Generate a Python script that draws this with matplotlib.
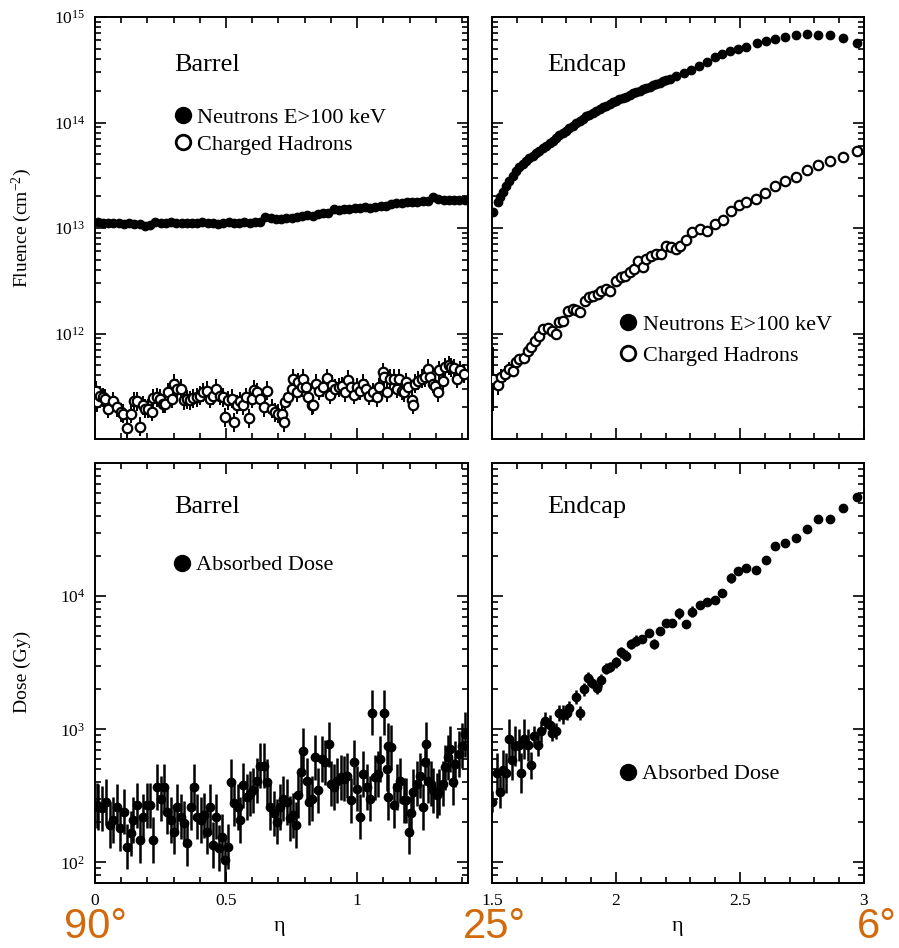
import numpy as np
import matplotlib
matplotlib.use("Agg")
import matplotlib.pyplot as plt
from matplotlib.ticker import (MultipleLocator, LogLocator, NullFormatter,
                               LogFormatterMathtext, FixedLocator, FuncFormatter)
from matplotlib.lines import Line2D

plt.rcParams['font.family'] = ['Liberation Serif', 'DejaVu Serif']
plt.rcParams['mathtext.fontset'] = 'custom'
plt.rcParams['mathtext.rm'] = 'Liberation Serif'
plt.rcParams['mathtext.it'] = 'Liberation Serif:italic'

# ---------------- data ----------------
# Barrel, neutron fluence (x 1e13 cm^-2)
eta_barrel_n = [0.01, 0.03, 0.05, 0.07, 0.09, 0.11, 0.13, 0.15, 0.17, 0.19,
                0.21, 0.23, 0.25, 0.27, 0.29, 0.31, 0.33, 0.35, 0.37, 0.39,
                0.41, 0.43, 0.45, 0.47, 0.49, 0.51, 0.53, 0.55, 0.57, 0.59,
                0.61, 0.63, 0.65, 0.67, 0.69, 0.71, 0.73, 0.75, 0.77, 0.79,
                0.81, 0.83, 0.85, 0.87, 0.89, 0.91, 0.93, 0.95, 0.97, 0.99,
                1.01, 1.03, 1.05, 1.07, 1.09, 1.11, 1.13, 1.15, 1.17, 1.19,
                1.21, 1.23, 1.25, 1.27, 1.29, 1.31, 1.33, 1.35, 1.37, 1.39,
                1.41]
neutron_barrel = [1.13, 1.12, 1.12, 1.11, 1.12, 1.10, 1.11, 1.09, 1.08, 1.05,
                  1.07, 1.15, 1.12, 1.11, 1.14, 1.12, 1.11, 1.12, 1.11, 1.12,
                  1.13, 1.11, 1.12, 1.10, 1.12, 1.13, 1.11, 1.12, 1.13, 1.12,
                  1.13, 1.15, 1.27, 1.24, 1.22, 1.23, 1.25, 1.24, 1.27, 1.30,
                  1.33, 1.31, 1.36, 1.38, 1.40, 1.52, 1.48, 1.50, 1.53, 1.55,
                  1.54, 1.57, 1.55, 1.58, 1.60, 1.63, 1.68, 1.72, 1.73, 1.75,
                  1.76, 1.78, 1.80, 1.82, 1.95, 1.88, 1.84, 1.86, 1.83, 1.84,
                  1.86]

# Barrel, charged hadron fluence (x 1e11 cm^-2)
eta_barrel_h = [0.003, 0.006, 0.019, 0.032, 0.038, 0.051, 0.068, 0.083, 0.098, 0.108,
                0.121, 0.136, 0.149, 0.159, 0.172, 0.182, 0.191, 0.204, 0.216, 0.223,
                0.235, 0.248, 0.258, 0.267, 0.280, 0.293, 0.302, 0.314, 0.327, 0.340,
                0.350, 0.363, 0.375, 0.388, 0.401, 0.413, 0.426, 0.439, 0.452, 0.462,
                0.477, 0.487, 0.496, 0.509, 0.522, 0.531, 0.541, 0.553, 0.566, 0.576,
                0.589, 0.598, 0.607, 0.617, 0.630, 0.643, 0.658, 0.674, 0.687, 0.700,
                0.712, 0.721, 0.725, 0.738, 0.751, 0.755, 0.770, 0.776, 0.789, 0.795,
                0.805, 0.814, 0.827, 0.833, 0.844, 0.856, 0.869, 0.884, 0.895, 0.903,
                0.916, 0.929, 0.941, 0.954, 0.967, 0.976, 0.989, 0.999, 1.011, 1.024,
                1.034, 1.047, 1.060, 1.075, 1.085, 1.098, 1.103, 1.113, 1.126, 1.139,
                1.151, 1.161, 1.170, 1.179, 1.187, 1.196, 1.209, 1.212, 1.221, 1.234,
                1.247, 1.260, 1.269, 1.279, 1.289, 1.298, 1.307, 1.314, 1.327, 1.336,
                1.349, 1.358, 1.368, 1.381, 1.393, 1.406]
hadron_barrel = [2.88, 2.23, 2.58, 2.49, 2.40, 1.93, 2.27, 2.00, 1.80, 1.73,
                 1.27, 1.73, 2.27, 2.27, 1.31, 2.08, 1.93, 1.93, 1.82, 2.43,
                 2.49, 2.40, 2.16, 2.16, 2.78, 2.40, 3.33, 2.99, 2.99, 2.32,
                 2.37, 2.32, 2.43, 2.49, 2.58, 2.78, 2.88, 2.40, 2.58, 2.99,
                 2.58, 2.49, 1.61, 2.32, 2.40, 1.44, 2.11, 2.27, 2.08, 2.49,
                 1.57, 2.40, 2.92, 2.78, 2.40, 2.00, 2.88, 1.93, 1.80, 1.73,
                 1.73, 1.44, 2.23, 2.49, 2.99, 3.71, 2.78, 3.46, 3.10, 3.71,
                 3.10, 2.49, 2.08, 2.11, 3.33, 2.88, 3.10, 3.77, 2.62, 3.26,
                 2.99, 3.10, 3.17, 2.78, 3.64, 3.10, 2.62, 3.10, 2.88, 3.33,
                 2.99, 2.58, 2.78, 2.49, 3.10, 4.30, 3.86, 2.78, 3.71, 3.71,
                 2.99, 3.71, 2.88, 2.78, 3.46, 3.10, 2.32, 2.11, 3.33, 3.58,
                 3.71, 3.86, 4.63, 3.86, 3.33, 3.21, 2.78, 4.46, 3.58, 4.80,
                 4.98, 4.80, 4.70, 3.71, 4.46, 4.15]
hadron_barrel_err_dex = 0.09

# Endcap, neutron fluence (x 1e13 cm^-2)
eta_endcap_n = [1.505, 1.523, 1.532, 1.543, 1.557, 1.570, 1.584, 1.597, 1.610, 1.624,
                1.637, 1.651, 1.664, 1.678, 1.691, 1.705, 1.718, 1.732, 1.745, 1.759,
                1.772, 1.786, 1.799, 1.812, 1.826, 1.839, 1.853, 1.866, 1.880, 1.893,
                1.907, 1.920, 1.934, 1.947, 1.961, 1.974, 1.988, 2.001, 2.014, 2.028,
                2.041, 2.055, 2.068, 2.082, 2.095, 2.109, 2.122, 2.136, 2.149, 2.163,
                2.176, 2.190, 2.203, 2.217, 2.243, 2.274, 2.304, 2.335, 2.365, 2.398,
                2.429, 2.459, 2.493, 2.526, 2.567, 2.604, 2.641, 2.681, 2.726, 2.769,
                2.816, 2.863, 2.917, 2.971]
neutron_endcap = [1.41, 1.75, 1.95, 2.18, 2.52, 2.81, 3.13, 3.50, 3.76, 4.04,
                  4.29, 4.58, 4.85, 5.10, 5.41, 5.73, 6.03, 6.39, 6.73, 7.13,
                  7.56, 7.95, 8.37, 8.81, 9.33, 9.82, 10.26, 10.8, 11.4, 11.9,
                  12.4, 12.9, 13.4, 13.9, 14.4, 15.0, 15.5, 16.1, 16.6, 17.1,
                  17.6, 18.2, 18.9, 19.5, 20.0, 20.6, 21.2, 21.9, 22.5, 23.2,
                  23.9, 24.6, 25.3, 26.0, 27.6, 29.4, 31.5, 34.3, 37.7, 41.5,
                  44.6, 47.3, 49.8, 52.4, 56.3, 58.8, 61.9, 65.1, 67.5, 69.0,
                  67.5, 67.5, 63.2, 56.3]

# Endcap, charged hadron fluence (x 1e12 cm^-2)
eta_endcap_h = [1.505, 1.523, 1.536, 1.554, 1.567, 1.584, 1.597, 1.610, 1.631, 1.644,
                1.658, 1.675, 1.691, 1.707, 1.725, 1.742, 1.759, 1.772, 1.788, 1.806,
                1.826, 1.839, 1.856, 1.873, 1.891, 1.907, 1.927, 1.940, 1.958, 1.974,
                2.001, 2.021, 2.035, 2.055, 2.071, 2.089, 2.109, 2.122, 2.142, 2.163,
                2.183, 2.203, 2.223, 2.243, 2.260, 2.284, 2.308, 2.338, 2.367, 2.398,
                2.432, 2.462, 2.497, 2.526, 2.564, 2.600, 2.641, 2.681, 2.726, 2.769,
                2.816, 2.863, 2.917, 2.971]
hadron_endcap = [0.371, 0.327, 0.385, 0.413, 0.461, 0.445, 0.533, 0.573, 0.586, 0.688,
                 0.739, 0.843, 0.954, 1.10, 1.13, 1.06, 0.989, 1.28, 1.32, 1.65,
                 1.71, 1.67, 1.59, 2.05, 2.23, 2.28, 2.37, 2.55, 2.64, 2.55,
                 3.12, 3.46, 3.53, 3.80, 4.09, 4.90, 4.24, 5.08, 5.47, 5.67,
                 5.67, 6.81, 6.66, 6.32, 6.81, 7.69, 9.10, 9.79, 9.44, 10.9,
                 12.0, 14.6, 16.6, 17.5, 18.8, 21.3, 25.2, 28.1, 30.7, 35.8,
                 39.8, 43.5, 46.8, 53.3]
hadron_endcap_err_dex = [0.30, 0.10, 0.08, 0.08, 0.07, 0.06, 0.05, 0.05, 0.05, 0.04,
                         0.04, 0.04, 0.04, 0.04, 0.04, 0.04, 0.03, 0.03, 0.03, 0.03,
                         0.03, 0.03, 0.03, 0.03, 0.03, 0.03, 0.03, 0.03, 0.03, 0.03,
                         0.03, 0.03, 0.03, 0.03, 0.03, 0.03, 0.03, 0.03, 0.03, 0.03,
                         0.03, 0.03, 0.03, 0.03, 0.03, 0.03, 0.03, 0.03, 0.03, 0.03,
                         0.02, 0.02, 0.02, 0.02, 0.02, 0.02, 0.02, 0.02, 0.02, 0.02,
                         0.02, 0.02, 0.02, 0.02]

# Barrel, absorbed dose (Gy)
eta_barrel_d = [0.006, 0.013, 0.025, 0.042, 0.057, 0.070, 0.085, 0.095, 0.111, 0.121,
                0.136, 0.146, 0.159, 0.172, 0.184, 0.197, 0.210, 0.223, 0.235, 0.251,
                0.263, 0.276, 0.289, 0.302, 0.314, 0.327, 0.340, 0.352, 0.365, 0.378,
                0.391, 0.403, 0.416, 0.426, 0.439, 0.452, 0.462, 0.472, 0.483, 0.496,
                0.509, 0.519, 0.532, 0.545, 0.553, 0.566, 0.579, 0.592, 0.604, 0.617,
                0.630, 0.643, 0.655, 0.668, 0.681, 0.693, 0.706, 0.719, 0.732, 0.744,
                0.757, 0.767, 0.776, 0.785, 0.795, 0.808, 0.818, 0.827, 0.840, 0.852,
                0.865, 0.878, 0.891, 0.900, 0.912, 0.925, 0.938, 0.950, 0.963, 0.976,
                0.989, 0.999, 1.011, 1.024, 1.037, 1.050, 1.055, 1.069, 1.081, 1.088,
                1.103, 1.113, 1.118, 1.128, 1.116, 1.139, 1.151, 1.164, 1.177, 1.187,
                1.197, 1.205, 1.215, 1.228, 1.238, 1.251, 1.260, 1.263, 1.272, 1.281,
                1.291, 1.304, 1.314, 1.327, 1.336, 1.345, 1.355, 1.365, 1.374, 1.387,
                1.399, 1.412]
dose_barrel = [269, 261, 254, 284, 191, 208, 261, 180, 240, 131,
               165, 208, 269, 147, 220, 269, 269, 147, 368, 301,
               368, 240, 208, 170, 261, 220, 196, 139, 261, 368,
               220, 208, 226, 170, 261, 135, 220, 128, 156, 105,
               131, 401, 277, 261, 208, 379, 310, 328, 347, 412,
               533, 533, 401, 261, 233, 202, 261, 301, 284, 214,
               226, 191, 319, 476, 690, 412, 284, 301, 615, 347,
               598, 565, 773, 390, 368, 412, 436, 424, 449, 293,
               565, 357, 220, 462, 368, 301, 1330, 436, 462, 598,
               1330, 504, 751, 731, 310, 269, 368, 412, 293, 293,
               170, 233, 338, 390, 449, 261, 565, 773, 412, 390,
               347, 319, 338, 390, 519, 615, 710, 401, 549, 652,
               751, 918]
dose_barrel_err_dex = 0.17

# Endcap, absorbed dose (Gy)
eta_endcap_d = [1.502, 1.519, 1.532, 1.543, 1.557, 1.567, 1.581, 1.594, 1.617, 1.610,
                1.631, 1.644, 1.658, 1.671, 1.685, 1.698, 1.715, 1.732, 1.742, 1.759,
                1.769, 1.786, 1.802, 1.812, 1.837, 1.853, 1.869, 1.887, 1.904, 1.923,
                1.940, 1.958, 1.974, 1.998, 2.021, 2.041, 2.062, 2.082, 2.106, 2.133,
                2.152, 2.179, 2.203, 2.227, 2.254, 2.281, 2.308, 2.338, 2.367, 2.398,
                2.429, 2.462, 2.493, 2.526, 2.564, 2.604, 2.641, 2.681, 2.726, 2.771,
                2.816, 2.863, 2.917, 2.971]
dose_endcap = [286, 468, 340, 496, 468, 845, 590, 745, 468, 766,
               845, 766, 535, 885, 757, 966, 1148, 1084, 938, 966,
               1327, 1290, 1327, 1449, 1745, 1327, 1994, 2415, 2240, 2029,
               2332, 2858, 2941, 3173, 3775, 3563, 4365, 4627, 4763, 5253,
               4365, 5445, 6254, 6254, 7444, 6181, 7663, 8603, 9016, 9383,
               10530, 13690, 15450, 16380, 15630, 18820, 23730, 25160, 27430, 31900,
               37760, 37760, 45710, 55360]
dose_endcap_err_dex = [0.08, 0.15, 0.12, 0.15, 0.15, 0.15, 0.15, 0.15, 0.15, 0.12,
                       0.15, 0.12, 0.10, 0.08, 0.08, 0.08, 0.07, 0.07, 0.06, 0.06,
                       0.06, 0.07, 0.05, 0.05, 0.05, 0.05, 0.05, 0.05, 0.04, 0.04,
                       0.05, 0.04, 0.04, 0.04, 0.04, 0.04, 0.04, 0.04, 0.03, 0.03,
                       0.04, 0.03, 0.03, 0.03, 0.04, 0.03, 0.04, 0.03, 0.03, 0.03,
                       0.03, 0.04, 0.03, 0.03, 0.03, 0.03, 0.03, 0.03, 0.02, 0.02,
                       0.02, 0.02, 0.02, 0.03]

barrel_xticks = [0, 0.5, 1]
endcap_xticks = [1.5, 2, 2.5, 3]
fluence_yticks = [1e12, 1e13, 1e14, 1e15]
dose_yticks = [1e2, 1e3, 1e4]


def dex_err(vals, dex):
    v = np.asarray(vals, dtype=float)
    d = np.asarray(dex, dtype=float)
    return [v - v / 10 ** d, v * 10 ** d - v]


# ---------------- layout ----------------
W, H = 899, 948
fig = plt.figure(figsize=(W / 100, H / 100), dpi=100)


def ax_at(x0, y0, x1, y1):
    return fig.add_axes([x0 / W, 1 - y1 / H, (x1 - x0) / W, (y1 - y0) / H])


ax_tl = ax_at(95, 17, 468, 439)
ax_tr = ax_at(492, 17, 864, 439)
ax_bl = ax_at(95, 463, 468, 883)
ax_br = ax_at(492, 463, 864, 883)

fmt_g = FuncFormatter(lambda v, p: '%g' % v)


def style(ax, xlim, xticks, ylim, yticks, show_x, show_y):
    ax.set_yscale('log')
    ax.set_xlim(*xlim)
    ax.set_ylim(*ylim)
    ax.xaxis.set_major_locator(FixedLocator(xticks))
    ax.xaxis.set_minor_locator(MultipleLocator(0.1))
    ax.xaxis.set_major_formatter(fmt_g)
    ax.yaxis.set_major_locator(FixedLocator(yticks))
    ax.yaxis.set_minor_locator(LogLocator(base=10, subs=np.arange(2, 10), numticks=30))
    ax.yaxis.set_minor_formatter(NullFormatter())
    ax.yaxis.set_major_formatter(LogFormatterMathtext())
    ax.tick_params(which='both', direction='in', top=True, right=True,
                   width=1.2, labelsize=12.5, pad=7)
    ax.tick_params(which='major', length=8)
    ax.tick_params(which='minor', length=4.5)
    ax.tick_params(labelbottom=show_x, labelleft=show_y)
    for s in ax.spines.values():
        s.set_linewidth(1.4)


style(ax_tl, (0, 1.423), barrel_xticks, (1.0e11, 1.0e15), fluence_yticks, False, True)
style(ax_tr, (1.5, 3.0), endcap_xticks, (1.0e11, 1.0e15), fluence_yticks, False, False)
style(ax_bl, (0, 1.423), barrel_xticks, (70, 1.0e5), dose_yticks, True, True)
style(ax_br, (1.5, 3.0), endcap_xticks, (70, 1.0e5), dose_yticks, True, False)

filled = dict(fmt='o', color='black', ms=6, capsize=0, elinewidth=1.8, zorder=3)
opened = dict(fmt='o', color='black', mfc='white', mec='black', mew=1.6, ms=6.8,
              capsize=0, elinewidth=1.4, zorder=3)

# top-left
nb = np.array(neutron_barrel) * 1e13
ax_tl.errorbar(eta_barrel_n, nb, yerr=dex_err(nb, 0.01), **filled)
hb = np.array(hadron_barrel) * 1e11
ax_tl.errorbar(eta_barrel_h, hb, yerr=dex_err(hb, hadron_barrel_err_dex), **opened)

# top-right
ne = np.array(neutron_endcap) * 1e13
ax_tr.errorbar(eta_endcap_n, ne, yerr=dex_err(ne, 0.01), **filled)
he = np.array(hadron_endcap) * 1e12
ax_tr.errorbar(eta_endcap_h, he, yerr=dex_err(he, hadron_endcap_err_dex), **opened)

# bottom
db = np.array(dose_barrel, dtype=float)
ax_bl.errorbar(eta_barrel_d, db, yerr=dex_err(db, dose_barrel_err_dex), **filled)
de = np.array(dose_endcap, dtype=float)
ax_br.errorbar(eta_endcap_d, de, yerr=dex_err(de, dose_endcap_err_dex), **filled)

# region titles
for ax, name, yy in [(ax_tl, 'Barrel', 0.886), (ax_tr, 'Endcap', 0.886),
                     (ax_bl, 'Barrel', 0.895), (ax_br, 'Endcap', 0.895)]:
    xx = 0.212 if name == 'Barrel' else 0.148
    ax.text(xx, yy, name, transform=ax.transAxes, fontsize=19,
            ha='left', va='center')

# legends
h_n = Line2D([], [], ls='none', marker='o', ms=11.5, color='black')
h_h = Line2D([], [], ls='none', marker='o', ms=10.5, mfc='white', mec='black', mew=2.0)
h_d = Line2D([], [], ls='none', marker='o', ms=11.5, color='black')
leg_kw = dict(frameon=False, fontsize=16, handlelength=0.8, handletextpad=0.25,
              borderpad=0, borderaxespad=0, loc='center left')
ax_tl.legend([h_n, h_h], ['Neutrons E>100 keV', 'Charged Hadrons'],
             bbox_to_anchor=(0.212, 0.730), labelspacing=0.3, **leg_kw)
ax_tr.legend([h_n, h_h], ['Neutrons E>100 keV', 'Charged Hadrons'],
             bbox_to_anchor=(0.3425, 0.2346), labelspacing=0.45, **leg_kw)
ax_bl.legend([h_d], ['Absorbed Dose'], bbox_to_anchor=(0.2094, 0.757), **leg_kw)
ax_br.legend([h_d], ['Absorbed Dose'], bbox_to_anchor=(0.3417, 0.2595), **leg_kw)

# axis labels
fig.text(22 / W, 1 - 228 / H, 'Fluence (cm$^{-2}$)', rotation=90,
         ha='center', va='center', fontsize=14)
fig.text(22 / W, 1 - 672 / H, 'Dose (Gy)', rotation=90,
         ha='center', va='center', fontsize=14)
fig.text(279 / W, 1 - 926 / H, 'η', ha='center', va='center', fontsize=16)
fig.text(677 / W, 1 - 926 / H, 'η', ha='center', va='center', fontsize=16)

# orange polar-angle annotations
orange = '#D2690A'
for txt, xl in [('90°', 64), ('25°', 463), ('6°', 857)]:
    fig.text(xl / W, 1 / H, txt, ha='left', va='bottom', fontsize=30,
             color=orange, family=['Liberation Sans', 'DejaVu Sans'])

fig.savefig('out.png', dpi=100)
